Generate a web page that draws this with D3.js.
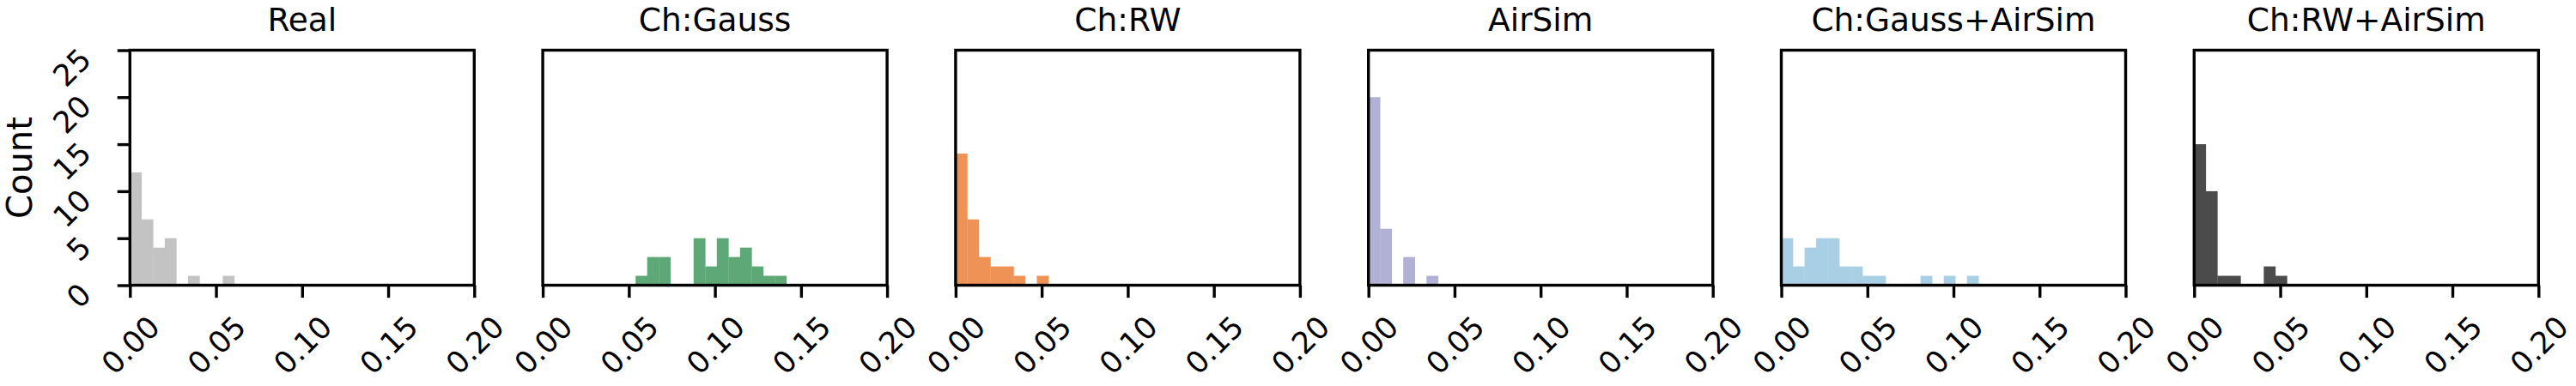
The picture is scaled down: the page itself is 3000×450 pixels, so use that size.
<!DOCTYPE html>
<html>
<head>
<meta charset="utf-8">
<script src="https://cdn.jsdelivr.net/npm/d3@7"></script>
<style>
  body { margin: 0; background: #fff; }
  svg { display: block; font-family: "DejaVu Sans", sans-serif; }
</style>
</head>
<body>
<svg id="chart" width="3000" height="450"></svg>
<script>
// panel titles and bar colours
const titles = ["Real", "Ch:Gauss", "Ch:RW", "AirSim", "Ch:Gauss+AirSim", "Ch:RW+AirSim"];
const colors = ["#c3c3c3", "#5ea877", "#ef9256", "#b1b0d5", "#a9cfe5", "#4b4b4b"];

// shared histogram bins: edge k = k * binWidth
const binWidth = 0.00674;
const countsReal = [12, 7, 4, 5, 0, 1, 0, 0, 1];
const countsGauss = [0, 0, 0, 0, 0, 0, 0, 0, 1, 3, 3, 0, 0, 5, 2, 5, 3, 4, 2, 1, 1];
const countsRW = [14, 7, 3, 2, 2, 1, 0, 1];
const countsAirSim = [20, 6, 0, 3, 0, 1];
const countsGaussAirSim = [5, 2, 4, 5, 5, 2, 2, 1, 1, 0, 0, 0, 1, 0, 1, 0, 1];
const countsRWAirSim = [15, 10, 1, 1, 0, 0, 2, 1];
const allCounts = [countsReal, countsGauss, countsRW, countsAirSim, countsGaussAirSim, countsRWAirSim];

const xTicks = [0, 0.05, 0.1, 0.15, 0.2];
const yTicks = [0, 5, 10, 15, 20, 25];

const svg = d3.select("#chart");
const left0 = 151.3, pitch = 480.8;
const plotW = 401, plotTop = 58.5, plotBottom = 332.5;
const plotH = plotBottom - plotTop;
const tickLen = 14.6, lineW = 3.4;
const tickFont = 35, titleFont = 37.5, labelFont = 40;

const x = d3.scaleLinear().domain([0, 0.2]).range([0, plotW]);
const y = d3.scaleLinear().domain([0, 25]).range([plotH, 0]);

// rotated label half-extent (bbox of a 45 degree rotated string)
const halfExt = (node) => 0.354 * (node.getComputedTextLength() + 0.73 * tickFont);

allCounts.forEach((counts, p) => {
  const g = svg.append("g")
    .attr("transform", `translate(${left0 + p * pitch},${plotTop})`);

  g.selectAll("rect.bar")
    .data(counts.map((c, i) => ({ i, c })).filter((d) => d.c > 0))
    .join("rect")
    .attr("class", "bar")
    .attr("x", (d) => x(d.i * binWidth))
    .attr("width", (d) => x((d.i + 1) * binWidth) - x(d.i * binWidth) + 0.3)
    .attr("y", (d) => y(d.c))
    .attr("height", (d) => y(0) - y(d.c))
    .attr("fill", colors[p]);

  // frame
  g.append("rect")
    .attr("width", plotW)
    .attr("height", plotH)
    .attr("fill", "none")
    .attr("stroke", "#000")
    .attr("stroke-width", lineW);

  const xAxis = g.append("g")
    .attr("transform", `translate(0,${plotH})`)
    .call(d3.axisBottom(x).tickValues(xTicks).tickFormat(d3.format(".2f")).tickSize(tickLen));
  xAxis.select(".domain").remove();
  xAxis.selectAll("line").attr("stroke-width", lineW);
  xAxis.selectAll("text")
    .attr("font-size", tickFont)
    .attr("font-family", "DejaVu Sans")
    .attr("fill", "#000")
    .attr("y", 0)
    .attr("dy", "0.36em")
    .attr("text-anchor", "middle")
    .each(function () {
      const h = halfExt(this);
      d3.select(this).attr("transform", `translate(0,${33 + h}) rotate(-45)`);
    });

  if (p === 0) {
    const yAxis = g.append("g")
      .call(d3.axisLeft(y).tickValues(yTicks).tickSize(tickLen));
    yAxis.select(".domain").remove();
    yAxis.selectAll("line").attr("stroke-width", lineW);
    yAxis.selectAll("text")
      .attr("font-size", tickFont)
      .attr("font-family", "DejaVu Sans")
      .attr("fill", "#000")
      .attr("x", 0)
      .attr("dy", "0.36em")
      .attr("text-anchor", "middle")
      .each(function () {
        const h = halfExt(this);
        d3.select(this).attr("transform", `translate(${-43 - h},${-5.5 + h}) rotate(-45)`);
      });

    svg.append("text")
      .attr("transform", `translate(22.5,${plotTop + plotH / 2}) rotate(-90)`)
      .attr("text-anchor", "middle")
      .attr("dy", "0.36em")
      .attr("font-size", labelFont)
      .text("Count");
  }

  g.append("text")
    .attr("x", plotW / 2)
    .attr("y", 35.5 - plotTop)
    .attr("text-anchor", "middle")
    .attr("font-size", titleFont)
    .text(titles[p]);
});
</script>
</body>
</html>
